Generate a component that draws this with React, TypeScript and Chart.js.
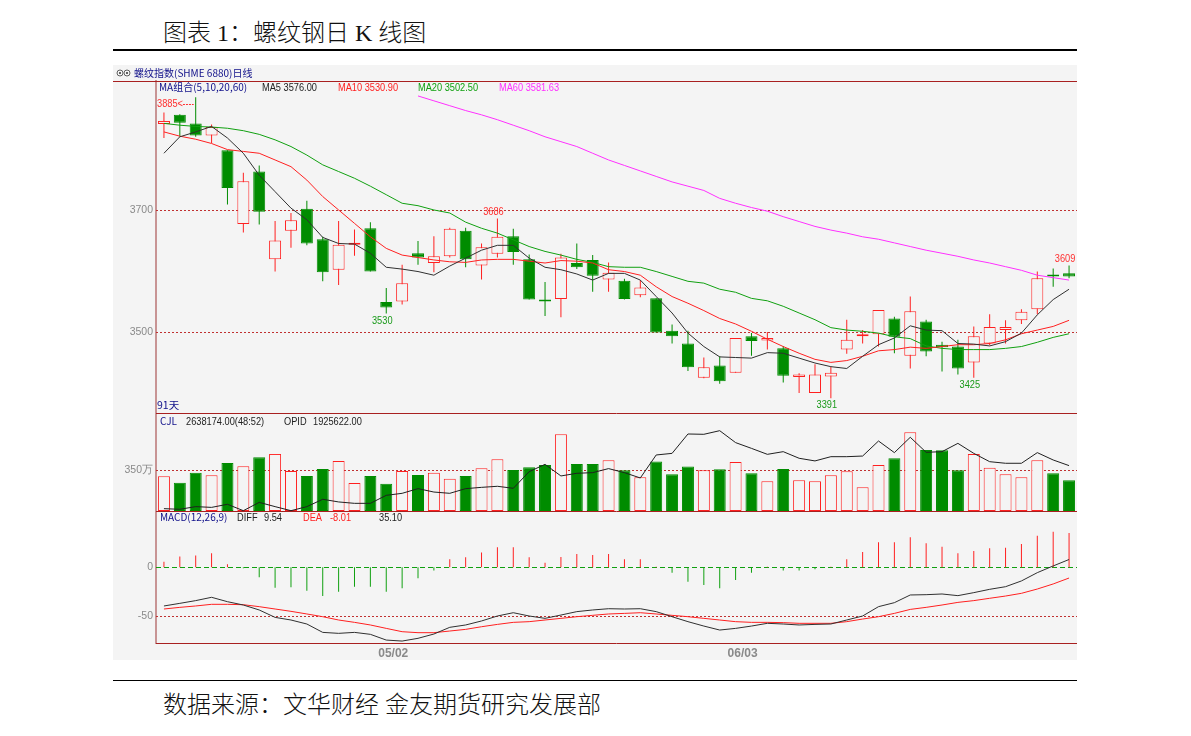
import React, { useEffect, useRef } from 'react';
import { Chart, registerables } from 'chart.js';

Chart.register(...registerables);

// ---- daily candles (螺纹指数) ----
const opens = [3841, 3856, 3842, 3822, 3798, 3677, 3763, 3619, 3666, 3702,
  3652, 3602, 3643, 3670, 3549, 3550, 3629, 3613, 3624, 3666,
  3609, 3628, 3657, 3619, 3553, 3554, 3613, 3618, 3586, 3584,
  3560, 3555, 3502, 3481, 3425, 3445, 3433, 3493, 3486, 3473,
  3426, 3400, 3427, 3471, 3493, 3496, 3522, 3461, 3517, 3479,
  3476, 3450, 3481, 3503, 3519, 3537, 3593, 3596];
const closes = [3846, 3843, 3822, 3836, 3736, 3747, 3697, 3650, 3683, 3645,
  3598, 3643, 3646, 3599, 3540, 3580, 3622, 3624, 3669, 3619,
  3639, 3656, 3631, 3553, 3550, 3622, 3606, 3592, 3597, 3554,
  3573, 3499, 3493, 3442, 3442, 3419, 3490, 3485, 3490, 3428,
  3430, 3430, 3433, 3487, 3496, 3536, 3492, 3534, 3468, 3475,
  3440, 3493, 3508, 3508, 3533, 3588, 3591, 3591];
const highs = [3860, 3857, 3885, 3840, 3798, 3761, 3773, 3682, 3695, 3715,
  3656, 3682, 3668, 3680, 3572, 3610, 3649, 3657, 3671, 3671,
  3645, 3686, 3669, 3627, 3582, 3628, 3645, 3626, 3614, 3587,
  3585, 3555, 3512, 3502, 3458, 3460, 3490, 3498, 3500, 3477,
  3432, 3447, 3443, 3520, 3503, 3536, 3525, 3558, 3520, 3484,
  3487, 3509, 3529, 3519, 3537, 3599, 3604, 3609];
const lows = [3818, 3820, 3820, 3810, 3709, 3663, 3676, 3599, 3638, 3642,
  3583, 3577, 3625, 3599, 3530, 3545, 3610, 3598, 3622, 3606,
  3586, 3622, 3610, 3553, 3526, 3524, 3603, 3566, 3566, 3553,
  3557, 3499, 3481, 3436, 3424, 3415, 3433, 3461, 3471, 3417,
  3400, 3400, 3391, 3464, 3481, 3476, 3465, 3440, 3460, 3435,
  3430, 3425, 3478, 3481, 3513, 3529, 3574, 3588];

// ---- moving averages ----
const ma5 = [3793, 3820, 3828, 3837, 3818, 3793, 3757, 3730, 3703, 3684,
  3655, 3645, 3644, 3629, 3606, 3603, 3599, 3593, 3608, 3621,
  3634, 3642, 3642, 3621, 3606, 3602, 3595, 3585, 3596, 3596,
  3585, 3558, 3531, 3498, 3476, 3459, 3458, 3457, 3466, 3465,
  3457, 3449, 3443, 3440, 3460, 3479, 3490, 3510, 3503, 3502,
  3481, 3480, 3477, 3484, 3498, 3528, 3553, 3570];
const ma10 = [3828, 3821, 3816, 3809, 3799, 3796, 3793, 3782, 3771, 3749,
  3722, 3700, 3678, 3656, 3637, 3626, 3622, 3618, 3615, 3614,
  3618, 3619, 3619, 3616, 3613, 3617, 3616, 3613, 3602, 3599,
  3593, 3574, 3558, 3547, 3535, 3522, 3513, 3501, 3488, 3476,
  3465, 3455, 3450, 3453, 3460, 3469, 3471, 3475, 3473, 3476,
  3479, 3479, 3481, 3487, 3497, 3503, 3509, 3519];
const ma20 = [3842, 3839, 3837, 3836, 3834, 3830, 3824, 3815, 3804, 3790,
  3774, 3763, 3752, 3739, 3725, 3711, 3707, 3700, 3695, 3680,
  3670, 3662, 3651, 3640, 3632, 3626, 3619, 3614, 3607, 3606,
  3606, 3599, 3591, 3583, 3580, 3570, 3565, 3555, 3551, 3542,
  3531, 3520, 3507, 3503, 3501, 3498, 3492, 3489, 3477, 3473,
  3471, 3471, 3471, 3473, 3476, 3483, 3491, 3497];
const ma60 = [null, null, null, null, null, null, null, null, null, null,
  null, null, null, null, null, null, 3887, 3879, 3871, 3863,
  3856, 3848, 3839, 3830, 3820, 3812, 3804, 3793, 3782, 3773,
  3764, 3755, 3746, 3739, 3732, 3719, 3711, 3704, 3698, 3689,
  3681, 3673, 3667, 3662, 3656, 3652, 3646, 3640, 3634, 3629,
  3624, 3618, 3613, 3607, 3601, 3593, 3589, 3585];

// ---- volume (万手) and open interest (万手) ----
const volumes = [298, 244, 330, 307, 413, 385, 462, 491, 344, 301,
  362, 430, 241, 301, 235, 344, 310, 330, 278, 301,
  367, 445, 353, 376, 396, 660, 405, 405, 436, 350,
  290, 425, 316, 382, 350, 359, 422, 324, 255, 362,
  264, 255, 307, 341, 204, 396, 453, 677, 525, 522,
  350, 491, 373, 316, 290, 436, 324, 264];
const openInterest = [152.2, 151.6, 154.1, 153.4, 156.3, 150.3, 158.1, 154.1, 150.3, 154.1,
  161.0, 158.5, 157.2, 157.2, 164.7, 166.6, 171.0, 167.8, 166.6, 171.0,
  172.2, 173.2, 171.3, 186.9, 193.8, 182.9, 185.4, 186.0, 189.8, 186.0,
  181.0, 202.6, 204.1, 222.3, 222.0, 225.4, 214.2, 208.8, 203.2, 205.7,
  199.5, 197.0, 201.0, 201.0, 201.6, 215.7, 204.8, 219.2, 205.1, 205.7,
  213.5, 204.1, 196.3, 194.8, 194.8, 204.8, 197.9, 192.6];

// ---- MACD(12,26,9) ----
const macdHist = [5.8, 11, 12, 14.4, 3.1, -1, -10.3, -20.9, -20.5, -24,
  -29.5, -25, -19.9, -19.9, -25, -21.6, -11.3, -3.4, 8.2, 10.3,
  15.1, 20.5, 20.5, 10.3, 4.8, 10.6, 13.7, 12.7, 13.7, 8.2,
  8.2, 0.5, -5.5, -14.7, -18.2, -21.6, -13, -5.5, 0.5, -3.4,
  -3.4, -2, 0.5, 8.2, 15.8, 25.7, 25.7, 30.8, 24.7, 21.2,
  14.4, 16.8, 19.5, 20.2, 24, 32.5, 36.6, 35.1];
const diffLine = [-39.7, -37, -34.2, -30.8, -35.3, -38.7, -43.8, -51.4, -54.1, -58.2,
  -66.8, -67.8, -66.8, -68.8, -74.7, -75.7, -72.9, -68.5, -61.6, -59.2,
  -55.1, -50, -46.6, -50, -52.4, -49, -45.5, -43.8, -42.5, -42.8,
  -42.5, -45.5, -50.7, -55.8, -60.3, -64.4, -62.7, -60.3, -57.5, -58.2,
  -59.2, -58.6, -58.2, -54.1, -50, -40.4, -36.3, -28.4, -28.1, -27.4,
  -29.1, -26, -22.6, -19.9, -14, -5.5, 1.4, 8];
const deaLine = [-42.8, -41.1, -39.7, -38, -38, -38.4, -40.4, -42.8, -45.2, -47.9,
  -50.7, -54.1, -56.5, -59.2, -62.7, -66.1, -67.1, -67.1, -65.4, -63.7,
  -61, -58.6, -56.5, -55.8, -54.1, -52.4, -50.7, -49.3, -47.9, -47.3,
  -46.6, -47.9, -49.3, -50.7, -52.4, -54.1, -55.8, -56.5, -56.5, -56.8,
  -57.5, -57.5, -57.5, -55.8, -53.1, -50.7, -47.3, -43.2, -41.1, -38.7,
  -36, -34.2, -31.8, -29.5, -26.7, -22.3, -17.1, -11];

// ---- axis ticks / labels ----
const dateTicks: Record<number, string> = { 14: '05/02', 36: '06/03' };
const priceTicks = [3500, 3700];
const volTicks = [350];
const macdTicks = [-50, 0];
const highMarks = [21, 57];
const arrowHighMark = 2;
const lowMarks = [14, 42, 51];
const maLegend = [
  { text: 'MA组合(5,10,20,60)', color: '#10108a', cjk: true, dx: 3 },
  { text: 'MA5 3576.00', color: '#222222', cjk: false, dx: 106 },
  { text: 'MA10 3530.90', color: '#ff2020', cjk: false, dx: 182 },
  { text: 'MA20 3502.50', color: '#10a010', cjk: false, dx: 262 },
  { text: 'MA60 3581.63', color: '#ff30ff', cjk: false, dx: 343 },
];
const volLegend = [
  { text: 'CJL', color: '#10108a', cjk: true, dx: 4 },
  { text: '2638174.00(48:52)', color: '#222222', cjk: false, dx: 30 },
  { text: 'OPID', color: '#222222', cjk: false, dx: 128 },
  { text: '1925622.00', color: '#222222', cjk: false, dx: 157 },
];
const macdLegend = [
  { text: 'MACD(12,26,9)', color: '#10108a', cjk: true, dx: 4 },
  { text: 'DIFF', color: '#222222', cjk: false, dx: 81 },
  { text: '9.54', color: '#222222', cjk: false, dx: 108 },
  { text: 'DEA', color: '#ff2020', cjk: false, dx: 147 },
  { text: '-8.01', color: '#ff2020', cjk: false, dx: 174 },
  { text: '35.10', color: '#222222', cjk: false, dx: 223 },
];

const SANS = "'Liberation Sans', sans-serif";
const CJK = "'Noto Sans CJK SC', sans-serif";
const NARROW_K = 0.84;
const UP = '#ff2020';
const DOWN = '#008c00';
const BG = '#f4f4f4';
const SEP = '#a82020';

function narrowText(ctx: any, text: string, x: number, y: number, align: string) {
  ctx.save();
  ctx.translate(x, y);
  ctx.scale(NARROW_K, 1);
  ctx.textAlign = align;
  ctx.fillText(text, 0, 0);
  ctx.restore();
}

const overlayPlugin = {
  id: 'overlay',
  afterLayout(chart: any) {
    const v = chart.scales.yVol;
    const o = chart.scales.yOpid;
    if (v && o) {
      o.top = v.top;
      o.bottom = v.bottom;
      o.height = v.bottom - v.top;
      o.configure();
    }
  },
  beforeDatasetsDraw(chart: any) {
    const { ctx, chartArea } = chart;
    ctx.save();
    ctx.lineWidth = 1;
    for (const id of ['yPrice', 'yVol', 'yMacd']) {
      const s = chart.scales[id];
      for (const t of s.ticks) {
        const y = Math.round(s.getPixelForValue(t.value)) + 0.5;
        const zero = id === 'yMacd' && t.value === 0;
        ctx.strokeStyle = zero ? '#10a010' : '#c03030';
        ctx.setLineDash(zero ? [5, 3] : [2, 2]);
        ctx.beginPath();
        ctx.moveTo(chartArea.left, y);
        ctx.lineTo(chartArea.right, y);
        ctx.stroke();
      }
    }
    ctx.restore();
  },
  afterDatasetsDraw(chart: any) {
    const { ctx, chartArea } = chart;
    const yp = chart.scales.yPrice;
    const yv = chart.scales.yVol;
    const ym = chart.scales.yMacd;
    const xs = chart.scales.x;
    const L = chartArea.left;
    ctx.save();
    // panel separators
    ctx.strokeStyle = SEP;
    ctx.lineWidth = 1;
    ctx.setLineDash([]);
    const hline = (y: number, x0: number, x1: number) => {
      const yy = Math.round(y) + 0.5;
      ctx.beginPath();
      ctx.moveTo(x0, yy);
      ctx.lineTo(x1, yy);
      ctx.stroke();
    };
    hline(yp.top, 0, chart.width);
    hline(yv.top, L, chartArea.right);
    hline(ym.top, L, chartArea.right);
    hline(ym.bottom, L, chartArea.right);

    // header
    ctx.textBaseline = 'middle';
    ctx.textAlign = 'left';
    ctx.strokeStyle = '#606060';
    for (const cx of [7, 14]) {
      ctx.beginPath();
      ctx.arc(cx, yp.top - 8, 3, 0, Math.PI * 2);
      ctx.stroke();
      ctx.fillStyle = '#606060';
      ctx.fillRect(cx - 1, yp.top - 9, 2, 2);
    }
    ctx.fillStyle = '#10108a';
    ctx.font = `10px ${CJK}`;
    ctx.fillText('螺纹指数(SHME 6880)日线', 21, yp.top - 8);

    const row = (items: any[], y: number) => {
      for (const it of items) {
        ctx.fillStyle = it.color;
        if (it.cjk) {
          ctx.font = `10px ${CJK}`;
          ctx.textAlign = 'left';
          ctx.fillText(it.text, L + it.dx, y);
        } else {
          ctx.font = `11px ${SANS}`;
          narrowText(ctx, it.text, L + it.dx, y, 'left');
        }
      }
    };
    row(maLegend, yp.top + 6.5);
    row(volLegend, yv.top + 8.5);
    row(macdLegend, ym.top + 6.5);

    ctx.font = `10.5px ${CJK}`;
    ctx.fillStyle = '#10108a';
    ctx.textAlign = 'left';
    ctx.fillText('91天', L + 1, yp.bottom - 7.5);

    // extreme annotations
    ctx.font = `11px ${SANS}`;
    ctx.fillStyle = '#ff3030';
    for (const i of highMarks) {
      const x = xs.getPixelForValue(i);
      const y = yp.getPixelForValue(highs[i]);
      narrowText(ctx, String(highs[i]), x - 4, y - 6.5, 'center');
    }
    ctx.fillStyle = '#1a9a1a';
    for (const i of lowMarks) {
      const x = xs.getPixelForValue(i);
      const y = yp.getPixelForValue(lows[i]);
      narrowText(ctx, String(lows[i]), x - 4, y + 7, 'center');
    }
    {
      const i = arrowHighMark;
      const x = xs.getPixelForValue(i);
      const y = yp.getPixelForValue(highs[i]) + 7;
      const txt = String(highs[i]) + '<';
      ctx.fillStyle = '#ff3030';
      narrowText(ctx, txt, L + 1, y, 'left');
      const w = ctx.measureText(txt).width * NARROW_K;
      ctx.strokeStyle = '#ff3030';
      ctx.setLineDash([2, 1]);
      ctx.beginPath();
      ctx.moveTo(L + 1 + w, Math.round(y) + 0.5);
      ctx.lineTo(x - 2, Math.round(y) + 0.5);
      ctx.stroke();
    }
    ctx.restore();
  },
};

const up = (i: number) => closes[i] >= opens[i];

function buildConfig(): any {
  const labels = opens.map((_, i) => dateTicks[i] ?? '');
  const candleColor = opens.map((_, i) => (up(i) ? UP : DOWN));
  const candleFill = opens.map((_, i) => (up(i) ? BG : DOWN));
  const tickFont = { family: SANS, size: 10.5 };
  const yBase = (extra: any) => ({
    type: 'linear',
    position: 'left',
    stack: 'panels',
    grid: { display: false, drawTicks: false },
    border: { display: true, color: '#c89494', width: 2 },
    afterFit: (s: any) => { s.width = 43; },
    ...extra,
  });
  const line = (data: any[], color: string, axis: string, order: number) => ({
    type: 'line',
    data,
    yAxisID: axis,
    borderColor: color,
    borderWidth: 1,
    pointRadius: 0,
    tension: 0,
    spanGaps: false,
    order,
  });
  return {
    type: 'bar',
    data: {
      labels,
      datasets: [
        line(ma5, '#303030', 'yPrice', 1),
        line(ma10, '#ff2020', 'yPrice', 1),
        line(ma20, '#10a010', 'yPrice', 1),
        line(ma60, '#ff30ff', 'yPrice', 1),
        {
          type: 'bar',
          data: opens.map((o, i) => [o, closes[i]]),
          yAxisID: 'yPrice',
          grouped: false,
          barThickness: 12,
          minBarLength: 2,
          backgroundColor: candleFill,
          borderColor: candleColor,
          borderWidth: 1,
          borderSkipped: false,
          inflateAmount: 0,
          order: 3,
        },
        {
          type: 'bar',
          data: lows.map((l, i) => [l, highs[i]]),
          yAxisID: 'yPrice',
          grouped: false,
          barThickness: 1,
          backgroundColor: candleColor,
          borderWidth: 0,
          inflateAmount: 0,
          order: 4,
        },
        line(openInterest, '#202020', 'yOpid', 5),
        {
          type: 'bar',
          data: volumes,
          yAxisID: 'yVol',
          grouped: false,
          barThickness: 12,
          backgroundColor: candleFill,
          borderColor: candleColor,
          borderWidth: 1,
          borderSkipped: false,
          inflateAmount: 0,
          order: 6,
        },
        line(diffLine, '#303030', 'yMacd', 7),
        line(deaLine, '#ff2020', 'yMacd', 7),
        {
          type: 'bar',
          data: macdHist,
          yAxisID: 'yMacd',
          grouped: false,
          barThickness: 1,
          backgroundColor: macdHist.map((v) => (v >= 0 ? '#ff2020' : '#10a010')),
          borderWidth: 0,
          inflateAmount: 0,
          order: 8,
        },
      ],
    },
    options: {
      responsive: false,
      maintainAspectRatio: false,
      animation: false,
      events: [],
      layout: { padding: { top: 16, left: 0, right: 0, bottom: 0 } },
      plugins: { legend: { display: false }, tooltip: { enabled: false } },
      scales: {
        x: {
          type: 'category',
          offset: true,
          grid: { display: false, drawTicks: false },
          border: { display: false },
          ticks: {
            autoSkip: false,
            maxRotation: 0,
            minRotation: 0,
            padding: 3,
            labelOffset: 7,
            color: '#8a8a8a',
            font: { family: SANS, size: 12, weight: 'bold' },
          },
          afterFit: (s: any) => { s.height = 17; },
        },
        yPrice: yBase({
          stackWeight: 332,
          weight: 3,
          min: 3367,
          max: 3911.5,
          afterBuildTicks: (s: any) => { s.ticks = priceTicks.map((value) => ({ value })); },
          ticks: { padding: 3, color: '#8a8a8a', font: tickFont, callback: (v: any) => String(v) },
        }),
        yVol: yBase({
          stackWeight: 98,
          weight: 2,
          min: 0,
          max: 843,
          afterBuildTicks: (s: any) => { s.ticks = volTicks.map((value) => ({ value })); },
          ticks: { padding: 3, color: '#8a8a8a', font: tickFont, callback: (v: any) => `${v}万` },
        }),
        yMacd: yBase({
          stackWeight: 132,
          weight: 1,
          min: -77.7,
          max: 57.8,
          afterBuildTicks: (s: any) => { s.ticks = macdTicks.map((value) => ({ value })); },
          ticks: { padding: 3, color: '#8a8a8a', font: tickFont, callback: (v: any) => String(v) },
        }),
        yOpid: {
          type: 'linear',
          position: 'right',
          display: false,
          min: 150,
          max: 242,
        },
      },
    },
    plugins: [overlayPlugin],
  };
}

export default function App() {
  const ref = useRef<HTMLCanvasElement>(null);
  useEffect(() => {
    const chart = new Chart(ref.current as HTMLCanvasElement, buildConfig());
    return () => chart.destroy();
  }, []);
  const textFont = "'Liberation Serif', 'Noto Sans CJK SC', serif";
  return (
    <div style={{ position: 'absolute', left: 0, top: 0, width: 1191, height: 736, background: '#ffffff' }}>
      <div style={{ position: 'absolute', left: 163, top: 21, fontFamily: textFont, fontSize: 24, fontWeight: 300, lineHeight: '24px', whiteSpace: 'nowrap', color: '#111' }}>
        图表 1：螺纹钢日 K 线图
      </div>
      <div style={{ position: 'absolute', left: 113, top: 49, width: 964, height: 1.5, background: '#000' }} />
      <canvas
        ref={ref}
        width={964}
        height={595}
        style={{ position: 'absolute', left: 113, top: 65, width: 964, height: 595, background: BG }}
      />
      <div style={{ position: 'absolute', left: 113, top: 679.5, width: 964, height: 1.5, background: '#000' }} />
      <div style={{ position: 'absolute', left: 163, top: 693, fontFamily: textFont, fontSize: 24, fontWeight: 300, lineHeight: '24px', whiteSpace: 'nowrap', color: '#111' }}>
        数据来源：文华财经 金友期货研究发展部
      </div>
    </div>
  );
}
